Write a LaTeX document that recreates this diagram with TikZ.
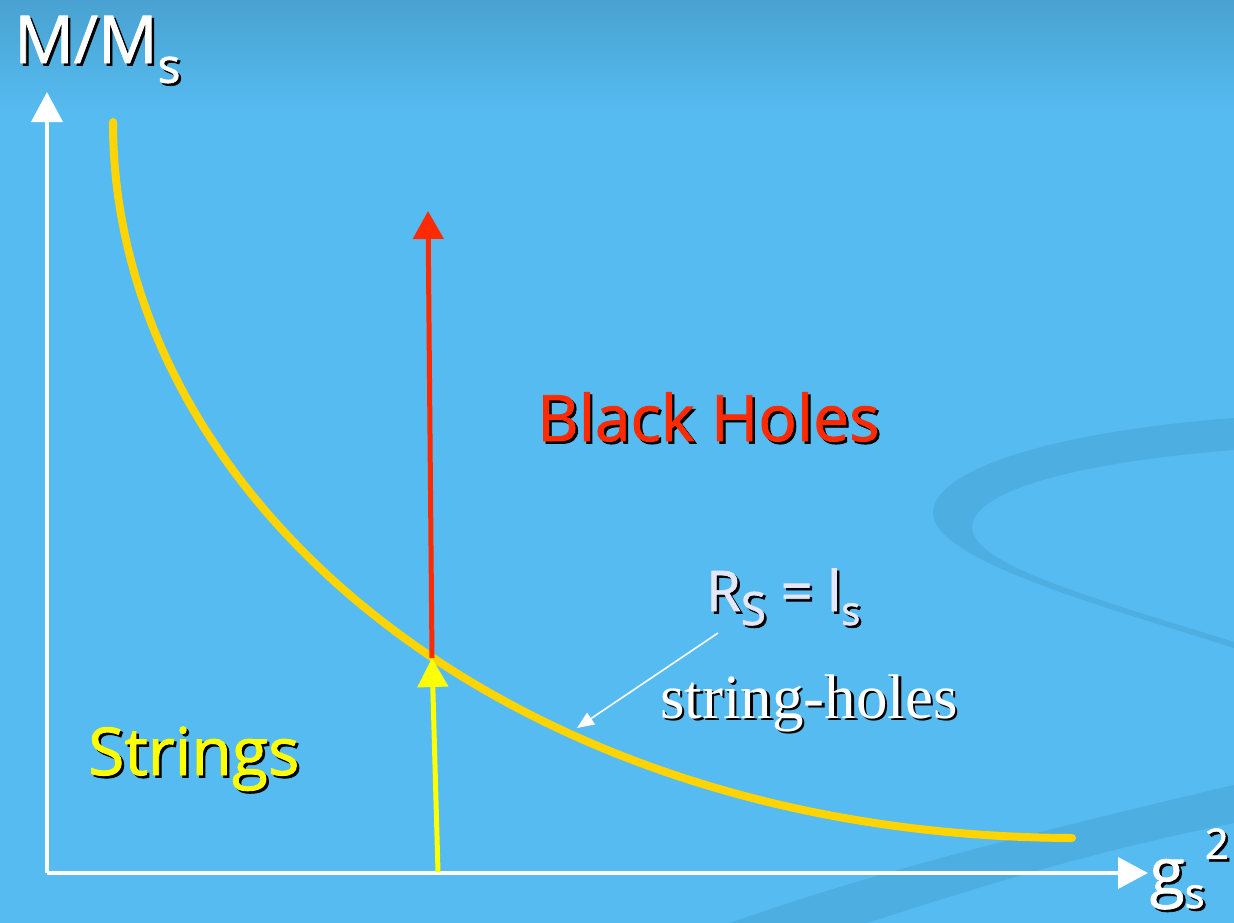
\documentclass[tikz,border=0pt]{standalone}
\usepackage{fontspec}
\setmainfont{Open Sans}[FakeBold=1.3]
\newfontfamily\timesfont{Liberation Serif}
\usepackage{xcolor}
\usetikzlibrary{arrows.meta}
\definecolor{bgblue}{HTML}{55BBF0}
\definecolor{bgtop}{HTML}{49A2D1}
\definecolor{swirl}{HTML}{4DAEE2}
\definecolor{curvegold}{HTML}{FFD400}
\definecolor{bhred}{HTML}{FF2A00}
\definecolor{strgyellow}{HTML}{FFFF00}
\definecolor{lavender}{HTML}{E6E6FA}
% text with a dark drop shadow
\newcommand{\shad}[2]{\makebox[0pt][l]{\hspace*{2.5bp}\raisebox{-2.5bp}{\color{black}#2}}{\color{#1}#2}}

\begin{document}
\begin{tikzpicture}[x=1bp, y=-1bp,
  axis/.style={draw=white, line width=4bp, -{Triangle[length=30bp, width=31bp]}},
  curve/.style={draw=curvegold, line width=8bp, line cap=round},
  up/.style={line width=5bp, -{Triangle[length=29bp, width=30bp]}},
  pointer/.style={draw=white, line width=1.6bp, -{Triangle[length=17bp, width=14bp]}},
  lbl/.style={anchor=base west, inner sep=0pt}]
  \useasboundingbox (0,0) rectangle (1234,923);
  \clip (0,0) rectangle (1234,923);
  % background and swirls
  \fill[bgblue] (0,0) rectangle (1234,923);
  \shade[top color=bgtop, bottom color=bgblue] (0,0) rectangle (1234,110);
  \fill[swirl] (1234,418) .. controls (1050,432) and (935,470) .. (933,512)
    .. controls (932,560) and (1100,605) .. (1234,648) -- (1234,642)
    .. controls (1100,600) and (970,565) .. (972,526)
    .. controls (975,490) and (1080,462) .. (1234,450) -- cycle;
  \fill[swirl] (1234,785) .. controls (1000,840) and (850,880) .. (730,923)
    -- (867,923) .. controls (1000,880) and (1100,850) .. (1234,823) -- cycle;

  \coordinate (origin) at (47,873);
  \coordinate (ytip) at (47,92);
  \coordinate (xtip) at (1148,873);
  \coordinate (meet) at (432,658);
  \coordinate (bhtop) at (428,211);
  \coordinate (gsfoot) at (438,872);
  \coordinate (pointfrom) at (718,633);
  \coordinate (pointto) at (577,728);

  \draw[curve] (113,122) .. controls (113,500) and (510,836) .. (1072,838);
  \draw[axis] (origin) -- (ytip);
  \draw[axis] (origin) -- (xtip);
  \draw[up, draw=bhred, -{Triangle[length=28bp, width=30bp]}, bhred] (meet) -- (bhtop);
  \draw[up, draw=strgyellow, strgyellow] (gsfoot) -- (meet);
  \draw[pointer] (pointfrom) -- (pointto);

  \node[lbl, font=\fontsize{66bp}{68bp}\selectfont] (mass) at (14,63)
    {\shad{white}{M/M\raisebox{-0.3em}{\fontsize{48bp}{48bp}\selectfont s}}};
  \node[lbl, font=\fontsize{64bp}{66bp}\selectfont] (bh) at (537,441)
    {\shad{bhred}{Black Holes}};
  \node[lbl, font=\fontsize{66bp}{68bp}\selectfont] (strings) at (88,775)
    {\shad{strgyellow}{Strings}};
  \node[lbl, font=\fontsize{56bp}{58bp}\selectfont] (rs) at (706,611)
    {\shad{lavender}{R\raisebox{-0.25em}{\fontsize{46bp}{46bp}\selectfont S} = l\raisebox{-0.25em}{\fontsize{40bp}{40bp}\selectfont s}}};
  \node[lbl, font=\timesfont\fontsize{63bp}{65bp}\selectfont] (holes) at (660,718)
    {\shad{white}{string-holes}};
  \node[lbl, anchor=base east, font=\fontsize{64bp}{66bp}\selectfont] (gs) at (1229,894)
    {\shad{white}{g\raisebox{-0.22em}{\fontsize{42bp}{42bp}\selectfont s}\raisebox{0.55em}{\fontsize{42bp}{42bp}\selectfont 2}}};
\end{tikzpicture}
\end{document}
